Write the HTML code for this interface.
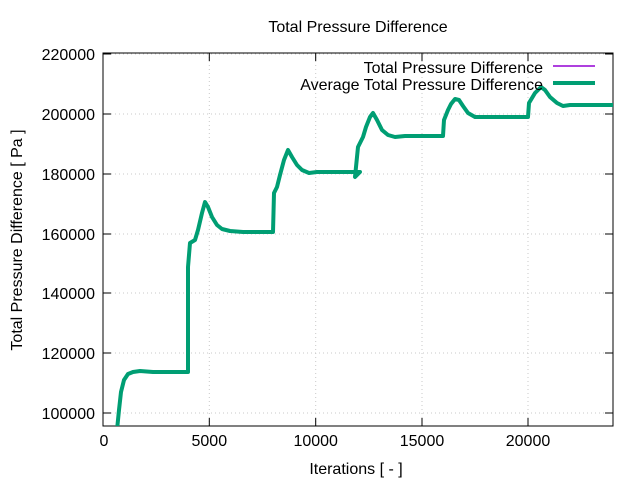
<!DOCTYPE html>
<html><head><style>body{margin:0;background:#fff}svg{display:block}text{font-family:"Liberation Sans",sans-serif;fill:#000}</style></head>
<body>
<svg width="640" height="480" viewBox="0 0 640 480" xmlns="http://www.w3.org/2000/svg">
<defs><clipPath id="c"><rect x="103" y="53" width="510" height="373"/></clipPath></defs>
<g stroke="#c8c8c8" stroke-dasharray="1,3" stroke-width="1">
<line x1="209.3" y1="53" x2="209.3" y2="426"/><line x1="315.7" y1="53" x2="315.7" y2="426"/><line x1="422" y1="53" x2="422" y2="426"/><line x1="528" y1="53" x2="528" y2="426"/>
<line x1="103" y1="114" x2="613" y2="114"/><line x1="103" y1="174" x2="613" y2="174"/><line x1="103" y1="234" x2="613" y2="234"/><line x1="103" y1="293" x2="613" y2="293"/><line x1="103" y1="353" x2="613" y2="353"/><line x1="103" y1="413" x2="613" y2="413"/><line x1="103" y1="54" x2="613" y2="54"/>
</g>
<g stroke="#000" stroke-width="1">
<rect x="103" y="53" width="510" height="373" fill="none"/>
<path d="M103 54h8M103 114h8M103 174h8M103 234h8M103 293h8M103 353h8M103 413h8M613 54h-8M613 114h-8M613 174h-8M613 234h-8M613 293h-8M613 353h-8M613 413h-8M209.3 426v-8M315.7 426v-8M422 426v-8M528 426v-8M209.3 53v8M315.7 53v8M422 53v8M528 53v8"/>
</g>
<g font-size="16" text-anchor="end">
<text x="95" y="60">220000</text><text x="95" y="120">200000</text><text x="95" y="180">180000</text><text x="95" y="240">160000</text><text x="95" y="299">140000</text><text x="95" y="359">120000</text><text x="95" y="419">100000</text>
</g>
<g font-size="16" text-anchor="middle">
<text x="104" y="446">0</text><text x="209.3" y="446">5000</text><text x="315.7" y="446">10000</text><text x="422" y="446">15000</text><text x="528" y="446">20000</text>
<text x="358" y="32">Total Pressure Difference</text>
<text x="356" y="474">Iterations [ - ]</text>
<text transform="translate(22,240) rotate(-90)">Total Pressure Difference [ Pa ]</text>
</g>
<g clip-path="url(#c)" fill="none" stroke-linejoin="round" stroke-linecap="round">
<path d="M117 430L119 410L121 392L124 380L128 374L133 372L140 371L153 372L188 372L188 267L190 243L195 240L198 230L202 213L205 202L208 207L212 217L217 225L222 229L230 231L243 232L273 232L274 193L277 187L280 175L284 160L288 150L292 157L297 165L302 170L309 173L317 172L360 172L355 177L358 147L363 137L366 127L370 117L373 113L377 120L382 130L388 135L395 137L405 136L443 136L444 120L448 110L451 104L455 99L459 100L463 106L468 113L475 117L485 117L528 117L529 103L535 93L541 87L545 90L550 97L557 103L563 106L570 105L613 105" stroke="#9400d3" stroke-width="1.5"/>
<path d="M117 430L119 410L121 392L124 380L128 374L133 372L140 371L153 372L188 372L188 267L190 243L195 240L198 230L202 213L205 202L208 207L212 217L217 225L222 229L230 231L243 232L273 232L274 193L277 187L280 175L284 160L288 150L292 157L297 165L302 170L309 173L317 172L360 172L355 177L358 147L363 137L366 127L370 117L373 113L377 120L382 130L388 135L395 137L405 136L443 136L444 120L448 110L451 104L455 99L459 100L463 106L468 113L475 117L485 117L528 117L529 103L535 93L541 87L545 90L550 97L557 103L563 106L570 105L613 105" stroke="#009e73" stroke-width="4"/>
</g>
<g font-size="16" text-anchor="end">
<text x="543" y="73">Total Pressure Difference</text>
<text x="543" y="90">Average Total Pressure Difference</text>
</g>
<line x1="553" y1="66" x2="595" y2="66" stroke="#9400d3" stroke-width="1.5"/>
<line x1="553" y1="83" x2="595" y2="83" stroke="#009e73" stroke-width="4"/>
</svg>
</body></html>
